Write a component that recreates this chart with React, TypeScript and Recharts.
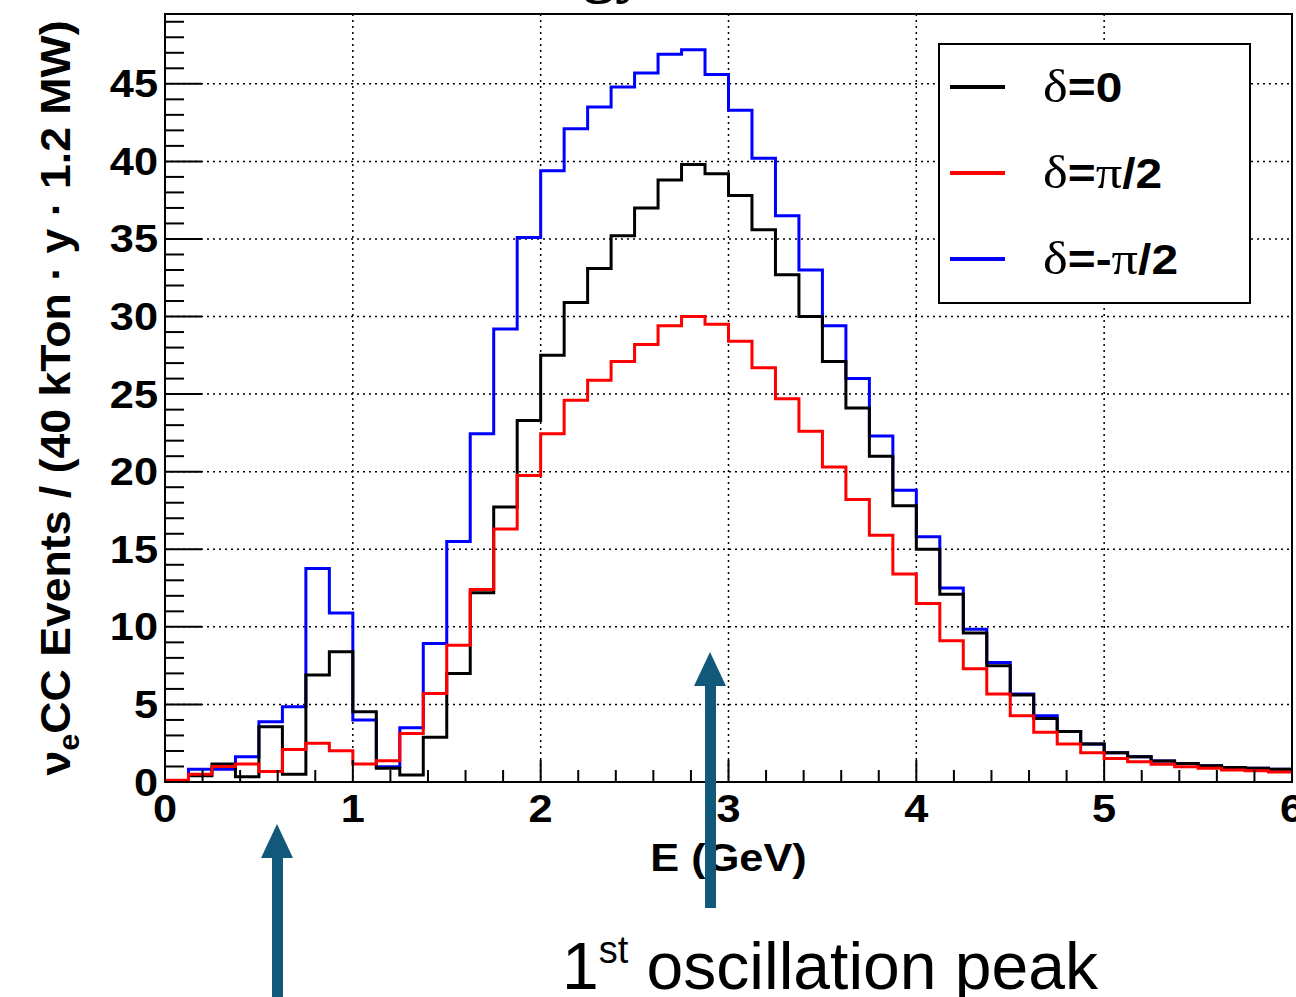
import React from "react"
import { LineChart, Line, XAxis, YAxis, CartesianGrid, ReferenceArea, Legend } from "recharts"

// bin edges in GeV (0.125 GeV bins)
const binEdges = [
  0, 0.125, 0.25, 0.375, 0.5, 0.625, 0.75, 0.875, 1, 1.125, 1.25, 1.375, 1.5, 1.625, 1.75, 1.875,
  2, 2.125, 2.25, 2.375, 2.5, 2.625, 2.75, 2.875, 3, 3.125, 3.25, 3.375, 3.5, 3.625, 3.75, 3.875,
  4, 4.125, 4.25, 4.375, 4.5, 4.625, 4.75, 4.875, 5, 5.125, 5.25, 5.375, 5.5, 5.625, 5.75, 5.875, 6,
]

// delta = -pi/2
const blueValues = [
  0.1, 0.82, 0.82, 1.63, 3.88, 4.85, 13.76, 10.9, 3.99, 0.99, 3.5, 8.93, 15.5, 22.45, 29.2, 35.1,
  39.4, 42.1, 43.5, 44.8, 45.7, 46.9, 47.2, 45.6, 43.3, 40.2, 36.5, 33.0, 29.4, 26.0, 22.3, 18.8,
  15.8, 12.5, 9.85, 7.7, 5.67, 4.27, 3.26, 2.45, 1.89, 1.63, 1.35, 1.2, 1.05, 0.94, 0.88, 0.82,
]

// delta = 0
const blackValues = [
  0.1, 0.4, 1.16, 0.34, 3.56, 0.5, 6.89, 8.39, 4.53, 0.88, 0.45, 2.88, 7.0, 12.2, 17.73, 23.3,
  27.5, 30.9, 33.1, 35.2, 37.0, 38.8, 39.8, 39.2, 37.8, 35.6, 32.7, 30.0, 27.1, 24.1, 21.0, 17.8,
  15.0, 12.1, 9.6, 7.5, 5.6, 4.1, 3.26, 2.45, 1.89, 1.63, 1.35, 1.2, 1.05, 0.94, 0.88, 0.82,
]

// delta = pi/2
const redValues = [
  0.12, 0.5, 1.0, 1.16, 0.67, 2.1, 2.49, 2.02, 1.16, 1.37, 3.13, 5.71, 8.82, 12.4, 16.3, 19.76,
  22.45, 24.6, 25.9, 27.1, 28.2, 29.4, 30.0, 29.5, 28.4, 26.7, 24.7, 22.6, 20.3, 18.2, 15.9, 13.4,
  11.5, 9.1, 7.3, 5.67, 4.27, 3.2, 2.45, 1.89, 1.52, 1.3, 1.14, 0.99, 0.88, 0.77, 0.73, 0.64,
]

const xMajor = [0, 1, 2, 3, 4, 5, 6]
const yMajor = [0, 5, 10, 15, 20, 25, 30, 35, 40, 45]
const yMax = 49.5
const legendOrder = ["δ=0", "δ=π/2", "δ=-π/2"]

const rows = binEdges.map((e, i) => {
  const k = Math.min(i, blueValues.length - 1)
  return { e, blue: blueValues[k], black: blackValues[k], red: redValues[k] }
})

// 5 minor divisions per GeV on x, 1 unit minor ticks on y
const xTicks: number[] = []
xMajor.forEach((m, i) => {
  if (i === xMajor.length - 1) xTicks.push(m)
  else for (let j = 0; j < 5; j++) xTicks.push(Math.round((m + j * 0.2) * 10) / 10)
})
const yTicks: number[] = []
for (let v = 0; v < yMax; v++) yTicks.push(v)

const SANS = "'Liberation Sans', Arial, Helvetica, sans-serif"
const SERIF = "'Liberation Serif', 'Times New Roman', serif"
const STRETCH = 1.14
const TEAL = "#11587a"

const XTick = (props: any) => {
  const { x, y, payload } = props
  const v = payload.value
  const major = xMajor.includes(v)
  return (
    <g>
      <line x1={x} x2={x} y1={y} y2={y - (major ? 22 : 12)} stroke="#000" strokeWidth={2} />
      {major && (
        <text transform={`translate(${x},${y + 40}) scale(${STRETCH},1)`} textAnchor="middle"
          fontFamily={SANS} fontWeight="bold" fontSize={38} fill="#000">{v}</text>
      )}
    </g>
  )
}

const YTick = (props: any) => {
  const { x, y, payload } = props
  const v = payload.value
  const major = yMajor.includes(v)
  return (
    <g>
      <line x1={x} x2={x + (major ? 37 : 19)} y1={y} y2={y} stroke="#000" strokeWidth={2} />
      {major && (
        <text transform={`translate(${x - 7},${y + 13.5}) scale(${STRETCH},1)`} textAnchor="end"
          fontFamily={SANS} fontWeight="bold" fontSize={38} fill="#000">{v}</text>
      )}
    </g>
  )
}

const XTitle = (props: any) => {
  const vb = props.viewBox || { x: 165, y: 782, width: 1127 }
  return (
    <text transform={`translate(${vb.x + vb.width / 2},${vb.y + 89}) scale(${STRETCH},1)`} textAnchor="middle"
      fontFamily={SANS} fontWeight="bold" fontSize={38} fill="#000">E (GeV)</text>
  )
}

const YTitle = (props: any) => {
  const vb = props.viewBox || { x: 0, y: 14, height: 768 }
  return (
    <text transform={`translate(${vb.x + 70},${vb.y + vb.height / 2}) scale(${STRETCH},1) rotate(-90)`}
      textAnchor="middle" fontFamily={SANS} fontWeight="bold" fontSize={38} fill="#000"
      textLength={755} lengthAdjust="spacingAndGlyphs">
      ν<tspan fontSize={26} dy={8}>e</tspan><tspan dy={-8}>CC Events / (40 kTon · y · 1.2 MW)</tspan>
    </text>
  )
}

const renderName = (name: string) =>
  Array.from(name).map((ch, i) =>
    /[δπ]/.test(ch) ? (
      <tspan key={i} fontFamily={SERIF} fontWeight="normal" fontSize={46}>{ch}</tspan>
    ) : (
      <tspan key={i} fontFamily={SANS} fontWeight="bold" fontSize={42}>{ch}</tspan>
    )
  )

const LegendBox = (props: any) => {
  const payload = props.payload || []
  const items = legendOrder.map((n) => payload.find((p: any) => p.value === n)).filter(Boolean)
  return (
    <svg width={313} height={261} style={{ display: "block" }}>
      <rect x={1} y={1} width={311} height={259} fill="#fff" stroke="#000" strokeWidth={2} />
      {items.map((it: any, i: number) => (
        <g key={it.value}>
          <line x1={12} x2={67} y1={44 + i * 86} y2={44 + i * 86} stroke={it.color} strokeWidth={4} />
          <text transform={`translate(105,${59 + i * 86}) scale(${STRETCH},1)`} fill="#000">
            {renderName(it.value)}
          </text>
        </g>
      ))}
    </svg>
  )
}

export default function App() {
  return (
    <div style={{ position: "absolute", left: 0, top: 0, width: 1296, height: 997, background: "#fff", overflow: "hidden" }}>
      <LineChart width={1296} height={997} data={rows} margin={{ top: 14, right: 4, bottom: 0, left: 0 }}>
        <CartesianGrid stroke="#000" strokeWidth={1.5} strokeDasharray="2 4"
          verticalValues={xMajor.filter((v) => v > 0 && v < 6)} horizontalValues={yMajor.filter((v) => v > 0)} />
        <XAxis dataKey="e" type="number" domain={[0, 6]} ticks={xTicks} interval={0} tick={(p: any) => <XTick {...p} />}
          tickLine={false} axisLine={false} tickSize={0} tickMargin={0} height={215} allowDataOverflow
          label={{ content: (p: any) => <XTitle {...p} /> }} />
        <YAxis type="number" domain={[0, yMax]} ticks={yTicks} interval={0} tick={(p: any) => <YTick {...p} />}
          tickLine={false} axisLine={false} tickSize={0} tickMargin={0} width={165} allowDataOverflow
          label={{ content: (p: any) => <YTitle {...p} /> }} />
        <Line type="stepAfter" dataKey="blue" name="δ=-π/2" stroke="#0000ff" strokeWidth={3} dot={false} activeDot={false} isAnimationActive={false} />
        <Line type="stepAfter" dataKey="black" name="δ=0" stroke="#000000" strokeWidth={3} dot={false} activeDot={false} isAnimationActive={false} />
        <Line type="stepAfter" dataKey="red" name="δ=π/2" stroke="#ff0000" strokeWidth={3} dot={false} activeDot={false} isAnimationActive={false} />
        <ReferenceArea x1={0} x2={6} y1={0} y2={yMax} fill="none" fillOpacity={0} stroke="#000" strokeWidth={2} />
        <Legend layout="horizontal" verticalAlign="middle" align="center"
          wrapperStyle={{ left: 938, top: 43, width: 313, height: 261 }}
          content={(p: any) => <LegendBox {...p} />} />
      </LineChart>
      <svg width={1296} height={997} style={{ position: "absolute", left: 0, top: 0, pointerEvents: "none" }}>
        <text x={583} y={-10} fontFamily={SERIF} fontWeight="bold" fontSize={64} fill="#000">gy</text>
        <rect x={272} y={857} width={11} height={140} fill={TEAL} />
        <polygon points="277,824 261,858 293,858" fill={TEAL} />
        <rect x={705} y={685} width={11} height={223} fill={TEAL} />
        <polygon points="710,652 694,686 726,686" fill={TEAL} />
        <text x={562} y={989} fontFamily={SANS} fontSize={66} fill="#000" textLength={536} lengthAdjust="spacingAndGlyphs">
          1<tspan fontSize={38} dy={-26}>st</tspan><tspan dy={26}> oscillation peak</tspan>
        </text>
      </svg>
    </div>
  )
}
